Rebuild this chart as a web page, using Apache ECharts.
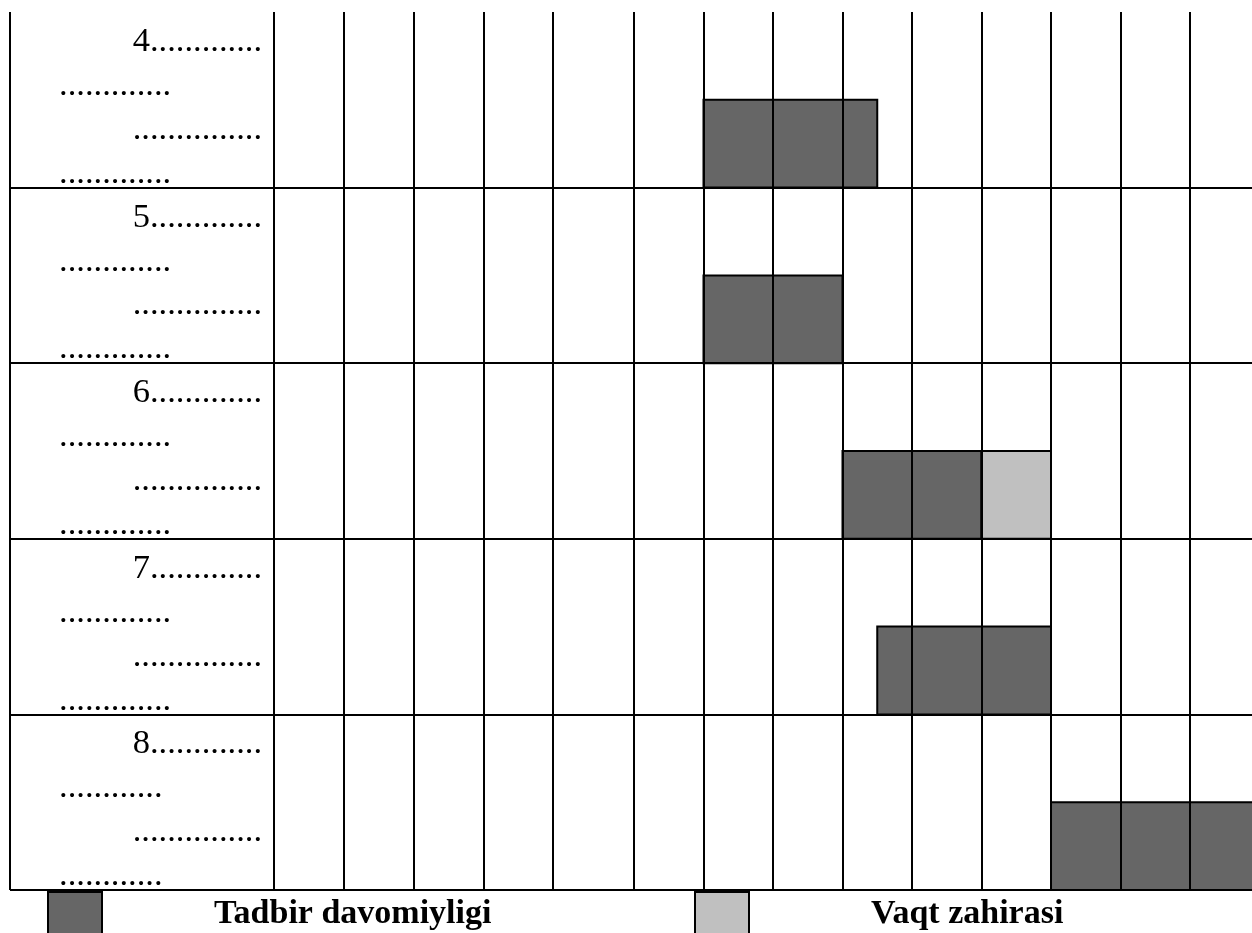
<!DOCTYPE html>
<html><head><meta charset="utf-8">
<script src="https://cdn.jsdelivr.net/npm/echarts@6/dist/echarts.min.js"></script>
<style>html,body{margin:0;padding:0;background:#fff}#c{width:1252px;height:933px}</style>
</head><body><div id="c"></div>
<script>
// ---- data ----
const rows = ['4', '5', '6', '7', '8'];
const labelLine1 = ['4.............', '5.............', '6.............', '7.............', '8.............'];
const labelLine2 = ['.............', '.............', '.............', '.............', '............'];
const labelLine3 = ['...............', '...............', '...............', '...............', '...............'];
const labelLine4 = ['.............', '.............', '.............', '.............', '............'];
const durationRow = ['4', '5', '6', '7', '8'];
const durationStart = [6, 6, 8, 8.5, 11];
const durationEnd = [8.5, 8, 10, 11, 14];
const reserveRow = ['6'];
const reserveStart = [10];
const reserveEnd = [11];
const seriesNames = ['Tadbir davomiyligi', 'Vaqt zahirasi'];

// ---- chart ----
const chart = echarts.init(document.getElementById('c'), null, {renderer: 'canvas'});
const FONT = 'Liberation Serif, Times New Roman, serif';
const LINE = {color: '#000', width: 2};
const TOP = 12, H = 878;
const FS = 34.5, LH = 43.9;

function xAx(gi, min, max, showMax) {
  return {
    type: 'value', gridIndex: gi, min: min, max: max, interval: 1, z: 5,
    axisLine: {show: false}, axisTick: {show: false}, axisLabel: {show: false},
    splitLine: {show: true, showMaxLine: showMax, lineStyle: LINE}
  };
}
function yAx(gi, labels) {
  const ax = {
    type: 'category', gridIndex: gi, data: rows, inverse: true, z: 5,
    axisLine: {show: false}, axisTick: {show: false},
    splitLine: {show: true, showMinLine: false, interval: 0, lineStyle: LINE},
    axisLabel: {show: false, interval: 0}
  };
  if (labels) {
    ax.axisLabel = {
      show: true, interval: 0, margin: 12, width: 203, overflow: 'none',
      padding: [16, 0, 0, 0],
      fontFamily: FONT, fontSize: FS, color: '#000', lineHeight: LH,
      formatter: function (v, i) {
        return '{r|' + labelLine1[i] + '}\n{l|' + labelLine2[i] + '}\n{r|' + labelLine3[i] + '}\n{l|' + labelLine4[i] + '}';
      },
      rich: {
        r: {align: 'right', fontFamily: FONT, fontSize: FS, color: '#000', lineHeight: LH},
        l: {align: 'left', fontFamily: FONT, fontSize: FS, color: '#000', lineHeight: LH}
      }
    };
  }
  return ax;
}

function renderBar(params, api) {
  const r = api.value(0);
  const p0 = api.coord([api.value(1), r]);
  const p1 = api.coord([api.value(2), r]);
  const band = api.size([0, 1])[1];
  return {
    type: 'rect',
    shape: {x: p0[0], y: p0[1], width: p1[0] - p0[0], height: band / 2},
    style: api.style()
  };
}

const durationData = durationRow.map((r, i) => [rows.indexOf(r), durationStart[i], durationEnd[i]]);
const reserveData = reserveRow.map((r, i) => [rows.indexOf(r), reserveStart[i], reserveEnd[i]]);

const legendText = {fontFamily: FONT, fontSize: 34, fontWeight: 'bold', color: '#000'};

chart.setOption({
  animation: false,
  backgroundColor: '#fff',
  grid: [
    {left: 10, top: TOP, width: 264, height: H},
    {left: 274, top: TOP, width: 279, height: H},
    {left: 553, top: TOP, width: 81, height: H},
    {left: 634, top: TOP, width: 618, height: H}
  ],
  xAxis: [xAx(0, 0, 1, true), xAx(1, 0, 4, true), xAx(2, 4, 5, true), xAx(3, 5, 13.892, false)],
  yAxis: [yAx(0, false), yAx(1, true), yAx(2, false), yAx(3, false)],
  legend: [
    {
      left: 47, top: 891, padding: 0, selectedMode: false,
      itemWidth: 54, itemHeight: 44,
      data: [{name: seriesNames[0], icon: 'rect'}],
      itemStyle: {borderColor: '#000', borderWidth: 2},
      textStyle: Object.assign({padding: [0, 0, 0, 107]}, legendText)
    },
    {
      left: 694, top: 891, padding: 0, selectedMode: false,
      itemWidth: 54, itemHeight: 44,
      data: [{name: seriesNames[1], icon: 'rect'}],
      itemStyle: {borderColor: '#000', borderWidth: 2},
      textStyle: Object.assign({padding: [0, 0, 0, 117]}, legendText)
    }
  ],
  series: [
    {
      name: seriesNames[0], type: 'custom', xAxisIndex: 3, yAxisIndex: 3, z: 1,
      renderItem: renderBar, encode: {x: [1, 2], y: 0},
      itemStyle: {color: '#666666', borderColor: '#000', borderWidth: 2},
      data: durationData, clip: true
    },
    {
      name: seriesNames[1], type: 'custom', xAxisIndex: 3, yAxisIndex: 3, z: 1,
      renderItem: renderBar, encode: {x: [1, 2], y: 0},
      itemStyle: {color: '#c0c0c0', borderColor: '#000', borderWidth: 2},
      data: reserveData, clip: true
    }
  ]
});
</script></body></html>
